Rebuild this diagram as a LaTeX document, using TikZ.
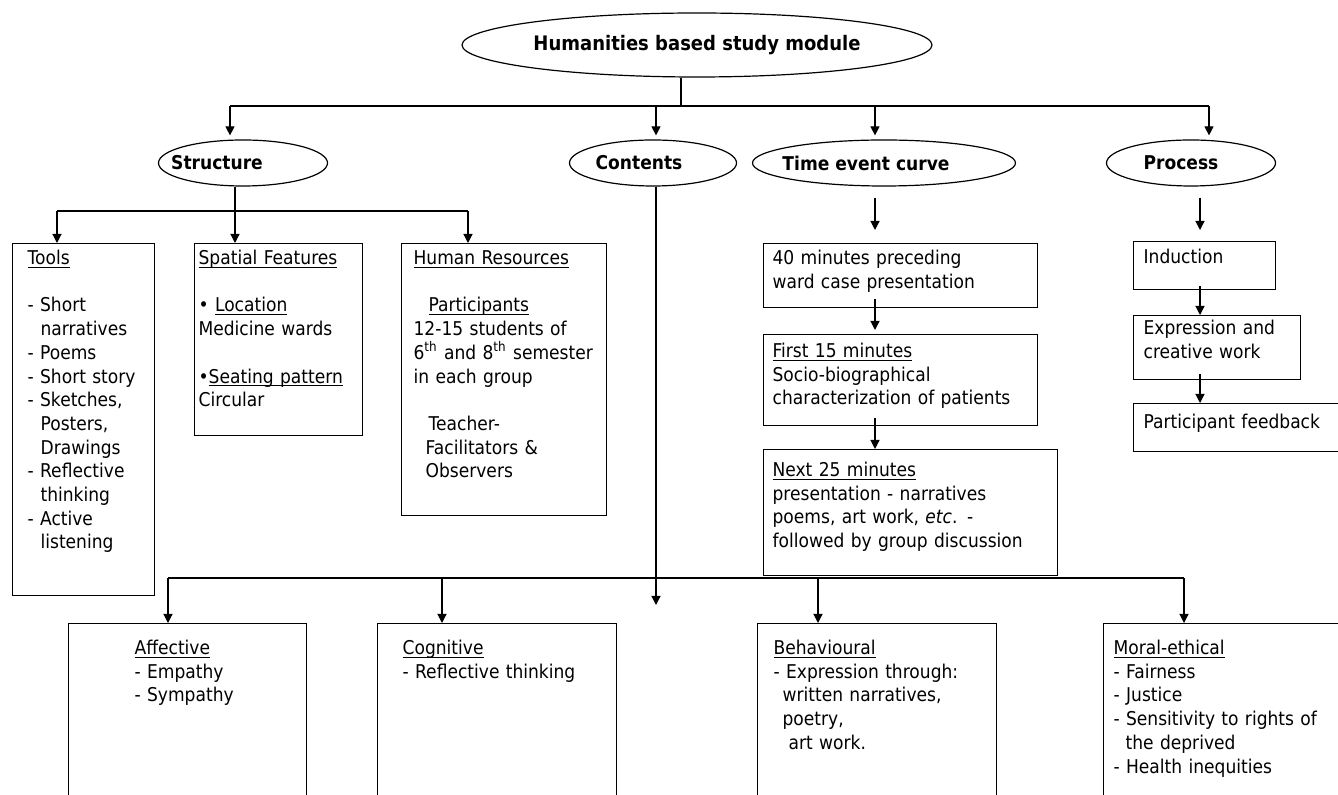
\documentclass[tikz,border=0pt]{standalone}
\usepackage{fontspec}
\setmainfont{DejaVu Sans}[FakeStretch=0.9]
\usetikzlibrary{shapes.geometric,arrows.meta}

\newsavebox{\ulnbox}
\newcommand{\uln}[1]{\sbox{\ulnbox}{#1}\rlap{\rule[-1.6pt]{\wd\ulnbox}{0.45pt}}\usebox{\ulnbox}}
\newcommand{\padleft}[1]{\leftskip=#1pt}
\newcommand{\contline}{\hspace*{6.5pt}}
\newcommand{\txtshift}[2]{\hspace*{-#1}#2\hspace*{#1}}

\begin{document}
\begin{tikzpicture}[
        x=0.5pt, y=-0.5pt,
        line width=0.6pt,
        font=\fontsize{9.5}{11.85}\selectfont,
        oval/.style={ellipse,draw,inner sep=0pt,minimum height=23pt,
                font=\fontsize{9.5}{11.85}\selectfont\bfseries},
        tbox/.style={draw,rectangle,anchor=north west,align=left,
                inner sep=0pt,text height=10.5pt},
        arr/.style={-{Triangle[length=4.5pt,width=4.5pt]}}
    ]
    \useasboundingbox (0,0) rectangle (1338,795);
    \clip (0,0) rectangle (1338,795);

    % ellipses
    \node[oval, minimum width=235pt, minimum height=32pt,
        font=\fontsize{10}{12}\selectfont\bfseries] (module) at (697,45) {Humanities based study module};
    \node[oval, minimum width=84.5pt] (structure) at (243,163) {\txtshift{13pt}{Structure}};
    \node[oval, minimum width=83.5pt] (contents) at (653,163) {\txtshift{7pt}{Contents}};
    \node[oval, minimum width=131.5pt] (timecurve) at (884,163) {\txtshift{9pt}{Time event curve}};
    \node[oval, minimum width=84.5pt] (process) at (1191,163) {\txtshift{5pt}{Process}};

    % structure boxes
    \node[tbox, text width=71pt, text depth=165.5pt] (tools) at (12,243)
        {\padleft{7.5}\uln{Tools}\\[11.85pt]
        - Short\\ \contline narratives\\ - Poems\\ - Short story\\ - Sketches,\\
        \contline Posters,\\ \contline Drawings\\ - Reflective\\ \contline thinking\\
        - Active\\ \contline listening\par};
    \node[tbox, text width=84pt, text depth=85.5pt] (spatial) at (194,243)
        {\padleft{2}\uln{Spatial Features}\\[11.85pt]
        • \uln{Location}\\ Medicine wards\\[11.85pt]
        •\uln{Seating pattern}\\ Circular\par};
    \node[tbox, text width=102.5pt, text depth=125.5pt] (human) at (401,243)
        {\padleft{6}\uln{Human Resources}\\[11.85pt]
        \hspace*{7.5pt}\uln{Participants}\\ 12-15 students of\\
        6\textsuperscript{th} and 8\textsuperscript{th} semester\\ in each group\\[11.85pt]
        \hspace*{7.5pt}Teacher-\\ \hspace*{6pt}Facilitators \&\\ \hspace*{6pt}Observers\par};

    % time event boxes
    \node[tbox, text width=137pt, text depth=21.5pt] (box40) at (763,243)
        {\padleft{4.5}40 minutes preceding\\ ward case presentation\par};
    \node[tbox, text width=137pt, text height=11.5pt, text depth=34pt] (first) at (763,334)
        {\padleft{4.5}\uln{First 15 minutes}\\ Socio-biographical\\ characterization of patients\par};
    \node[tbox, text width=147pt, text height=13.5pt, text depth=49.5pt] (next) at (763,449)
        {\padleft{4.5}\uln{Next 25 minutes}\\ presentation - narratives\\
        poems, art work, \textit{etc}. -\\ followed by group discussion\par};

    % process boxes
    \node[tbox, text width=71pt, text height=11pt, text depth=13pt] (induction) at (1133,241)
        {\padleft{5}Induction\par};
    \node[tbox, text width=83.5pt, text height=9.5pt, text depth=22.5pt] (expression) at (1133,315)
        {\padleft{5}Expression and\\ creative work\par};
    \node[tbox, text width=106pt, text height=12.5pt, text depth=11.5pt] (feedback) at (1133,403)
        {\padleft{5}Participant feedback\par};

    % outcome boxes
    \node[tbox, text width=119pt, text height=15.5pt, text depth=100pt] (affective) at (68,623)
        {\padleft{33}\uln{Affective}\\ - Empathy\\ - Sympathy\par};
    \node[tbox, text width=119.5pt, text height=15.5pt, text depth=100pt] (cognitive) at (377,623)
        {\padleft{12.5}\uln{Cognitive}\\ - Reflective thinking\par};
    \node[tbox, text width=119.5pt, text height=15.5pt, text depth=100pt] (behavioural) at (757,623)
        {\padleft{8}\uln{Behavioural}\\ - Expression through:\\
        \hspace*{4.5pt}written narratives,\\ \hspace*{4.5pt}poetry,\\ \hspace*{7.5pt}art work.\par};
    \node[tbox, text width=121pt, text height=15.5pt, text depth=100pt] (moral) at (1103,623)
        {\padleft{5}\uln{Moral-ethical}\\ - Fairness\\ - Justice\\
        - Sensitivity to rights of\\ \hspace*{6pt}the deprived\\ - Health inequities\par};

    % top level connectors
    \coordinate (hub) at (681,106);
    \coordinate (t1) at (230,106);
    \coordinate (t2) at (656,106);
    \coordinate (t3) at (875,106);
    \coordinate (t4) at (1209,106);
    \draw (hub |- module.south) -- (hub);
    \draw (t1) -- (t4);
    \draw[arr, shorten >=2pt] (t1) -- (t1 |- structure.north);
    \draw[arr, shorten >=2pt] (t2) -- (t2 |- contents.north);
    \draw[arr, shorten >=2pt] (t3) -- (t3 |- timecurve.north);
    \draw[arr, shorten >=2pt] (t4) -- (t4 |- process.north);

    % structure connectors
    \coordinate (s0) at (235,211);
    \coordinate (s1) at (57,211);
    \coordinate (s3) at (468,211);
    \draw[arr] (s0 |- structure.south) -- (s0 |- spatial.north);
    \draw (s1) -- (s3);
    \draw[arr] (s1) -- (s1 |- tools.north);
    \draw[arr] (s3) -- (s3 |- human.north);

    % contents line
    \coordinate (cend) at (656,605);
    \draw[arr] (cend |- contents.south) -- (cend);

    % time event column
    \coordinate (tcol) at (875,0);
    \draw[arr, shorten <=5.5pt, shorten >=6.5pt] (tcol |- timecurve.south) -- (tcol |- box40.north);
    \draw[arr, shorten <=-4.5pt, shorten >=2pt] (tcol |- box40.south) -- (tcol |- first.north);
    \draw[arr, shorten <=-4pt] (tcol |- first.south) -- (tcol |- next.north);

    % process column
    \coordinate (pcol) at (1200,0);
    \draw[arr, shorten <=5.5pt, shorten >=5.5pt] (pcol |- process.south) -- (pcol |- induction.north);
    \draw[arr, shorten <=-2pt] (pcol |- induction.south) -- (pcol |- expression.north);
    \draw[arr, shorten <=-3pt] (pcol |- expression.south) -- (pcol |- feedback.north);

    % outcome bus
    \coordinate (d1) at (168,578);
    \coordinate (d2) at (442,578);
    \coordinate (d3) at (818,578);
    \coordinate (d4) at (1184,578);
    \draw (d1) -- (d4);
    \draw[arr] (d1) -- (d1 |- affective.north);
    \draw[arr] (d2) -- (d2 |- cognitive.north);
    \draw[arr] (d3) -- (d3 |- behavioural.north);
    \draw[arr] (d4) -- (d4 |- moral.north);

\end{tikzpicture}
\end{document}
